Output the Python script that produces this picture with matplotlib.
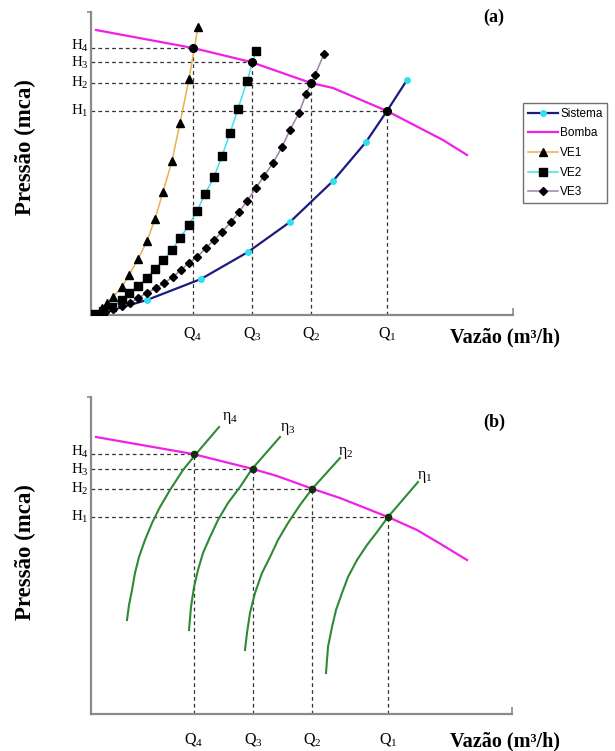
import matplotlib
matplotlib.use("Agg")
import matplotlib.pyplot as plt

plt.rcParams['font.family'] = ['Liberation Serif', 'DejaVu Serif']
plt.rcParams['mathtext.fontset'] = 'custom'
plt.rcParams['mathtext.rm'] = 'Liberation Serif'
plt.rcParams['mathtext.it'] = 'Liberation Serif:italic'
plt.rcParams['mathtext.bf'] = 'Liberation Serif:bold'

# ---------------- data (schematic units) ----------------
# panel (a)
bomba_a_x = [5, 102, 160, 220, 242, 296, 352, 376]
bomba_a_y = [285, 267, 253, 232, 227, 204, 175, 160]

sistema_x = [4, 56, 110, 157, 199, 242, 275, 296, 316]
sistema_y = [0, 15, 36, 63, 93, 134, 173, 204, 235]

ve1_x = [4, 11, 16, 22, 31, 38, 47, 56, 64, 72, 81, 89, 98, 107]
ve1_y = [1, 7, 12, 18, 28, 40, 56, 74, 96, 123, 154, 192, 236, 288]

ve2_x = [4, 12, 21, 31, 38, 47, 56, 64, 72, 81, 89, 98, 106, 114, 123, 131, 139, 147, 156, 165]
ve2_y = [1, 4, 8, 15, 22, 29, 37, 46, 55, 65, 77, 90, 104, 121, 138, 159, 182, 206, 234, 264]

ve3_x = [14, 22, 31, 39, 47, 56, 65, 73, 82, 90, 98, 106, 115, 123, 131, 140, 148,
         156, 165, 173, 182, 191, 199, 208, 215, 224, 233]
ve3_y = [3, 6, 9, 12, 17, 22, 27, 32, 38, 45, 52, 58, 67, 75, 83, 93, 103,
         114, 127, 139, 152, 168, 185, 202, 221, 240, 261]

q_a = [296, 220, 161, 102]   # Q1..Q4
h_a = [204, 232, 253, 267]   # H1..H4

# panel (b)
bomba_b_x = [5, 102, 162, 186, 222, 249, 297, 326, 348, 376]
bomba_b_y = [277, 260, 245, 238, 225, 216, 197, 184, 171, 154]

eta4_x = [36, 38, 41, 44, 48, 54, 61, 69, 79, 92, 105, 128]
eta4_y = [94, 109, 124, 141, 157, 174, 191, 207, 224, 244, 260, 287]
eta3_x = [98, 100, 103, 107, 112, 119, 127, 137, 149, 161, 189]
eta3_y = [84, 107, 127, 144, 161, 177, 194, 211, 227, 245, 277]
eta2_x = [154, 156, 159, 164, 171, 179, 187, 197, 209, 221, 249]
eta2_y = [64, 81, 101, 121, 141, 157, 174, 191, 209, 225, 256]
eta1_x = [235, 237, 241, 245, 251, 257, 266, 276, 286, 297, 327]
eta1_y = [41, 67, 87, 104, 121, 137, 154, 169, 182, 197, 232]

q_b = [297, 221, 162, 103]
h_b = [197, 225, 245, 260]

q_labels = ['Q$_1$', 'Q$_2$', 'Q$_3$', 'Q$_4$']
h_labels = ['H$_1$', 'H$_2$', 'H$_3$', 'H$_4$']
eta_labels = ['η$_1$', 'η$_2$', 'η$_3$', 'η$_4$']

# ---------------- figure ----------------
W, H = 615, 751
fig = plt.figure(figsize=(W / 100, H / 100), dpi=100)

axA = fig.add_axes([91 / W, (H - 315) / H, 422 / W, 303 / H])
axB = fig.add_axes([91 / W, (H - 714) / H, 421 / W, 317 / H])
axA.set_xlim(0, 422); axA.set_ylim(0, 303)
axB.set_xlim(0, 421); axB.set_ylim(0, 317)

grey = '#8a8a8a'
for ax in (axA, axB):
    for s in ('top', 'right'):
        ax.spines[s].set_visible(False)
    for s in ('left', 'bottom'):
        ax.spines[s].set_color(grey)
        ax.spines[s].set_linewidth(1.6)
    ax.set_xticks([ax.get_xlim()[1]])
    ax.set_yticks([ax.get_ylim()[1]])
    ax.tick_params(axis='x', direction='in', length=5, width=1.2, color=grey, labelbottom=False)
    ax.tick_params(axis='y', direction='out', length=3, width=1.2, color=grey, labelleft=False)

dash = dict(color='#333333', lw=0.9, ls=(0, (3, 2.5)), zorder=1)

# panel (a) dashed guides
for q, h in zip(q_a, h_a):
    axA.plot([0, q], [h, h], **dash)
    axA.plot([q, q], [0, h], **dash)

magenta = '#f020e8'
l_sis, = axA.plot(sistema_x, sistema_y, color='#1c1c7c', lw=1.6, marker='o', ms=4,
                  mfc='#30e0f0', mec='#30e0f0', markevery=[0, 1, 2, 3, 4, 5, 6, 8],
                  label='Sistema', zorder=3)
l_bom, = axA.plot(bomba_a_x, bomba_a_y, color=magenta, lw=1.6, label='Bomba', zorder=2)
l_ve1, = axA.plot(ve1_x, ve1_y, color='#e8b050', lw=1.1, marker='^', ms=6,
                  mfc='black', mec='black', label='VE1', zorder=4)
l_ve2, = axA.plot(ve2_x, ve2_y, color='#40e0f0', lw=1.1, marker='s', ms=5.2,
                  mfc='black', mec='black', label='VE2', zorder=4)
l_ve3, = axA.plot(ve3_x, ve3_y, color='#a080a8', lw=1.1, marker='D', ms=4,
                  mfc='black', mec='black', label='VE3', zorder=4)
axA.plot(q_a, h_a, ls='none', marker='o', ms=5.5, color='black', zorder=5)

leg = fig.legend(handles=[l_sis, l_bom, l_ve1, l_ve2, l_ve3], loc='upper left',
                 bbox_to_anchor=(523 / W, 1 - 103 / H), bbox_transform=fig.transFigure,
                 prop={'family': 'Liberation Sans', 'size': 8.5}, fancybox=False,
                 edgecolor='#707070', framealpha=1, borderpad=0.4, handlelength=2.6,
                 handletextpad=0.15, labelspacing=0.65, borderaxespad=0)
leg.get_frame().set_linewidth(1.0)

# small vertical nudges keep the closely spaced H labels apart
h_nudge = [0, 0, -1, 2]

for q, lab in zip(q_a, q_labels):
    axA.text(q, -19, lab, ha='center', va='center', fontsize=11.5, clip_on=False)
for h, lab, dn in zip(h_a, h_labels, h_nudge):
    axA.text(-2, h + dn, lab, ha='right', va='center', fontsize=10.8, clip_on=False)

# panel (b)
for q, h in zip(q_b, h_b):
    axB.plot([0, q], [h, h], **dash)
    axB.plot([q, q], [0, h], **dash)
axB.plot(bomba_b_x, bomba_b_y, color=magenta, lw=1.6, zorder=2)
green = '#2e8b34'
for ex, ey in ((eta1_x, eta1_y), (eta2_x, eta2_y), (eta3_x, eta3_y), (eta4_x, eta4_y)):
    axB.plot(ex, ey, color=green, lw=1.5, zorder=3, solid_joinstyle='round')
axB.plot(q_b, h_b, ls='none', marker='o', ms=4.5, color='#103010', zorder=5)

for q, lab in zip(q_b, q_labels):
    axB.text(q, -25, lab, ha='center', va='center', fontsize=11.5, clip_on=False)
for h, lab, dn in zip(h_b, h_labels, h_nudge):
    axB.text(-2, h + dn, lab, ha='right', va='center', fontsize=10.8, clip_on=False)
eta_pos = [(326, 237), (247, 261), (189, 285), (131, 296)]
for (ex, ey), lab in zip(eta_pos, eta_labels):
    axB.text(ex, ey, lab, ha='left', va='center', fontsize=11.5, clip_on=False)

# titles and axis labels
def ftext(px, py, s, **kw):
    fig.text(px / W, 1 - py / H, s, **kw)

ftext(494, 17, '(a)', ha='center', va='center', fontsize=13, fontweight='bold')
ftext(494, 422, '(b)', ha='center', va='center', fontsize=13, fontweight='bold')
ftext(25, 147, 'Pressão (mca)', ha='center', va='center', rotation=90, fontsize=16.5, fontweight='bold')
ftext(25, 552, 'Pressão (mca)', ha='center', va='center', rotation=90, fontsize=16.5, fontweight='bold')
ftext(450, 337, 'Vazão (m³/h)', ha='left', va='center', fontsize=14.5, fontweight='bold')
ftext(450, 741, 'Vazão (m³/h)', ha='left', va='center', fontsize=14.5, fontweight='bold')

fig.savefig('out.png', dpi=100)
